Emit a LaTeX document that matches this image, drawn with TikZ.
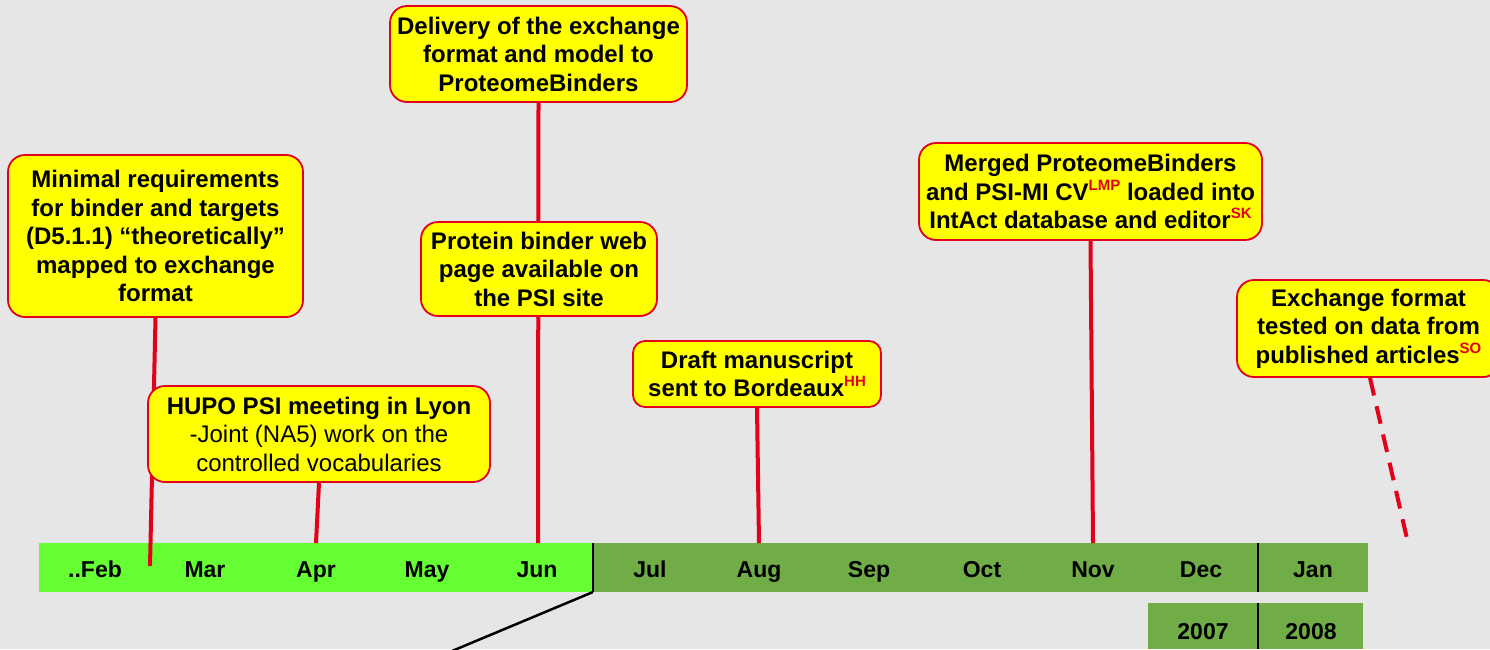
\documentclass[tikz,border=0pt]{standalone}
\usepackage{fontspec}
\setmainfont{Liberation Sans}
\usetikzlibrary{backgrounds}
\definecolor{bgray}{HTML}{E6E6E6}
\definecolor{lgreen}{HTML}{66FF33}
\definecolor{dgreen}{HTML}{70AD47}
\definecolor{callred}{HTML}{E2001A}
\definecolor{boxyellow}{HTML}{FFFF00}
\newcommand\redsup[1]{\raisebox{0.42em}{\fontsize{15}{15}\selectfont\color{callred}#1}}
\pgfdeclarelayer{lines}
\pgfsetlayers{background,lines,main}
\tikzset{
  callout/.style={draw=callred, line width=1.8pt, fill=boxyellow, rounded corners=17pt,
    align=center, inner sep=0pt, font=\fontsize{24}{28.5}\selectfont\bfseries},
  redline/.style={draw=callred, line width=4pt},
  reddash/.style={draw=callred, line width=4pt, dash pattern=on 18pt off 11pt},
  month/.style={font=\fontsize{23}{24}\selectfont\bfseries, inner sep=0pt, anchor=base},
  divider/.style={draw=black, line width=1.8pt}
}
\begin{document}
\begin{tikzpicture}[x=1pt,y=-1pt]
\useasboundingbox (0,0) rectangle (1490,649);
\begin{pgfonlayer}{background}
  \fill[bgray] (0,0) rectangle (1490,649);
  \fill[lgreen] (39,543) rectangle (593,592);
  \fill[dgreen] (593,543) rectangle (1368,592);
  \fill[dgreen] (1148,603) rectangle (1363,649);
\end{pgfonlayer}

% month labels
\foreach \x/\m [count=\i] in {95/..Feb,205/Mar,316/Apr,427/May,537/Jun,650/Jul,759/Aug,869/Sep,982/Oct,1093/Nov,1201/Dec,1313/Jan}
  \node[month] (m\i) at (\x,577.5) {\m};
\node[month] (y2007) at (1203,639.5) {2007};
\node[month] (y2008) at (1311,639.5) {2008};

% dividers
\coordinate (jun) at (593,543);
\coordinate (junb) at (593,592);
\coordinate (diagend) at (452,651);
\draw[divider] (jun) -- (junb);
\draw[black, line width=2.5pt] (junb) -- (diagend);
\coordinate (dec) at (1258,543);
\coordinate (decb) at (1258,592);
\draw[divider] (dec) -- (decb);
\coordinate (yr) at (1258,603);
\coordinate (yrb) at (1258,649);
\draw[divider] (yr) -- (yrb);

% callouts
\node[callout, minimum width=295pt, minimum height=162pt] (c1) at (155.5,236)
  {Minimal requirements\\for binder and targets\\(D5.1.1) \textquotedblleft theoretically\textquotedblright\\mapped to exchange\\format};
\node[callout, minimum width=342pt, minimum height=96pt] (c2) at (319,434)
  {HUPO PSI meeting in Lyon\\\mdseries -Joint (NA5) work on the\\\mdseries controlled vocabularies};
\node[callout, minimum width=297pt, minimum height=96pt] (c3) at (538.5,54)
  {Delivery of the exchange\\format and model to\\ProteomeBinders};
\node[callout, minimum width=236pt, minimum height=94pt] (c4) at (539,269)
  {Protein binder web\\page available on\\the PSI site};
\node[callout, minimum width=248pt, minimum height=66pt, rounded corners=12pt] (c5) at (757,374)
  {Draft manuscript\\sent to Bordeaux\redsup{HH}};
\node[callout, minimum width=343pt, minimum height=97pt] (c6) at (1090.5,191.5)
  {Merged ProteomeBinders\\and PSI-MI CV\redsup{LMP} loaded into\\IntAct database and editor\redsup{SK}};
\node[callout, minimum width=263pt, minimum height=97pt] (c7) at (1368.5,328.5)
  {Exchange format\\tested on data from\\published articles\redsup{SO}};

% connectors
\coordinate (e1) at (150,566);
\coordinate (e2) at (316,543);
\coordinate (e3) at (538,543);
\coordinate (e5) at (759,543);
\coordinate (e6) at (1093,543);
\coordinate (e7) at (1408,543);
\begin{pgfonlayer}{lines}
  \draw[redline] (c1.south) -- (e1);
  \draw[redline] (c2.south) -- (e2);
  \draw[redline] (c3.south) -- (e3);
  \draw[redline] (c5.south) -- (e5);
  \draw[redline] (c6.south) -- (e6);
  \draw[reddash] ([xshift=1.5pt]c7.south) -- (e7);
\end{pgfonlayer}
\end{tikzpicture}
\end{document}
